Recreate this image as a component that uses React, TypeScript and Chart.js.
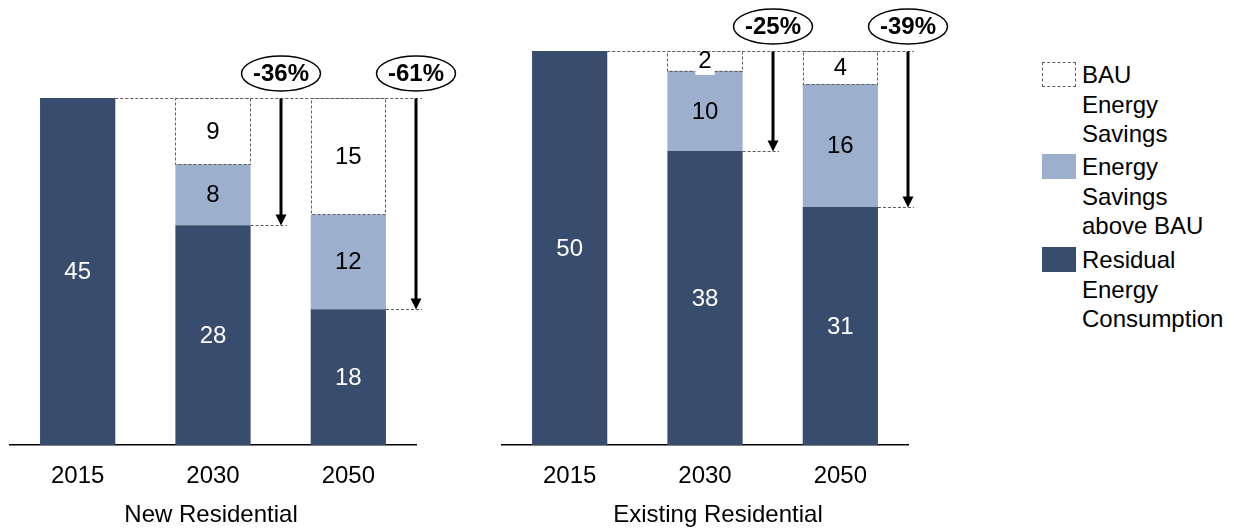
import React, { useEffect, useRef } from 'react';
import { Chart, registerables } from 'chart.js';

Chart.register(...registerables);

// ---------- data ----------
const categories = ['2015', '2030', '2050'];

const newResidual = [45, 28.5, 17.6];
const newAbove = [0, 7.9, 12.3];
const newBau = [0, 8.6, 15.1];
const newResidualLabels = ['45', '28', '18'];
const newAboveLabels = ['', '8', '12'];
const newBauLabels = ['', '9', '15'];
const newChangeLabels = ['', '-36%', '-61%'];

const exResidual = [50, 37.3, 30.2];
const exAbove = [0, 10.2, 15.6];
const exBau = [0, 2.5, 4.2];
const exResidualLabels = ['50', '38', '31'];
const exAboveLabels = ['', '10', '16'];
const exBauLabels = ['', '2', '4'];
const exChangeLabels = ['', '-25%', '-39%'];

const legendLines = [
  ['BAU', 'Energy', 'Savings'],
  ['Energy', 'Savings', 'above BAU'],
  ['Residual', 'Energy', 'Consumption'],
];

// ---------- styles ----------
const FONT = "'Liberation Sans', Arial, Helvetica, sans-serif";
const DARK = '#384C6D';
const LIGHT = '#9CAFCD';
const DASH = '#5c5c5c';
const FS = 24;

const annotatePlugin = {
  id: 'annotate',
  afterDatasetsDraw(chart: any, _args: any, opts: any) {
    const { ctx, scales } = chart;
    const xs = scales.x;
    const res = chart.getDatasetMeta(0).data;
    const ab = chart.getDatasetMeta(1).data;
    const bau = chart.getDatasetMeta(2).data;
    const n = res.length;
    const P = (el: any) => el.getProps(['x', 'y', 'base', 'width'], true);

    ctx.save();
    // dashed BAU boxes
    ctx.lineWidth = 1;
    ctx.strokeStyle = DASH;
    ctx.setLineDash([3, 2]);
    bau.forEach((el: any) => {
      const b = P(el);
      if (b.base - b.y < 1) return;
      const l = Math.round(b.x - b.width / 2) + 0.5;
      const r = Math.round(b.x + b.width / 2) - 0.5;
      const t = Math.round(b.y) + 0.5;
      const bt = Math.round(b.base) + 0.5;
      ctx.strokeRect(l, t, r - l, bt - t);
    });

    const dline = (x1: number, y: number, x2: number) => {
      ctx.beginPath();
      ctx.moveTo(x1, y);
      ctx.lineTo(x2, y);
      ctx.stroke();
    };

    const b0 = P(res[0]);
    const topY = Math.round(b0.y) + 0.5;
    const lastAx = xs.getPixelForValue(n - 1 + 0.5);
    dline(b0.x + b0.width / 2, topY, lastAx + 6);

    for (let i = 1; i < n; i++) {
      const b = P(res[i]);
      const ax = Math.round(xs.getPixelForValue(i + 0.5));
      const yEnd = Math.round(b.y) + 0.5;
      ctx.setLineDash([3, 2]);
      ctx.lineWidth = 1;
      ctx.strokeStyle = DASH;
      dline(b.x + b.width / 2, yEnd, ax + 6);

      // arrow
      ctx.setLineDash([]);
      ctx.strokeStyle = '#000';
      ctx.fillStyle = '#000';
      ctx.lineWidth = 3;
      ctx.beginPath();
      ctx.moveTo(ax, topY);
      ctx.lineTo(ax, yEnd - 10);
      ctx.stroke();
      ctx.beginPath();
      ctx.moveTo(ax - 5.5, yEnd - 11);
      ctx.lineTo(ax + 5.5, yEnd - 11);
      ctx.lineTo(ax, yEnd);
      ctx.closePath();
      ctx.fill();

      // ellipse with change label
      const cy = topY - 25;
      ctx.beginPath();
      ctx.ellipse(ax, cy, 39.5, 17.5, 0, 0, Math.PI * 2);
      ctx.fillStyle = '#fff';
      ctx.fill();
      ctx.lineWidth = 1.5;
      ctx.strokeStyle = '#000';
      ctx.stroke();
      ctx.fillStyle = '#000';
      ctx.font = `bold ${FS}px ${FONT}`;
      ctx.textAlign = 'center';
      ctx.textBaseline = 'middle';
      ctx.fillText(opts.changes[i], ax, cy + 1);
    }

    // value labels
    ctx.font = `${FS}px ${FONT}`;
    ctx.textAlign = 'center';
    ctx.textBaseline = 'middle';
    const groups = [
      { els: res, labels: opts.residualLabels, color: '#fff', box: false },
      { els: ab, labels: opts.aboveLabels, color: '#000', box: false },
      { els: bau, labels: opts.bauLabels, color: '#000', box: true },
    ];
    groups.forEach((g) => {
      g.els.forEach((el: any, i: number) => {
        const txt = g.labels[i];
        if (!txt) return;
        const b = P(el);
        const cy = (b.y + b.base) / 2;
        if (g.box) {
          const w = ctx.measureText(txt).width + 6;
          ctx.fillStyle = '#fff';
          ctx.fillRect(b.x - w / 2, cy - 9, w, 23);
        }
        ctx.fillStyle = g.color;
        ctx.fillText(txt, b.x, cy + 1);
      });
    });

    // axis title
    ctx.fillStyle = '#000';
    ctx.font = `${FS}px ${FONT}`;
    ctx.fillText(opts.title, (chart.chartArea.left + chart.chartArea.right) / 2 + opts.titleDx, opts.titleY);
    ctx.restore();
  },
};

type PanelProps = {
  residual: number[];
  above: number[];
  bau: number[];
  residualLabels: string[];
  aboveLabels: string[];
  bauLabels: string[];
  changes: string[];
  title: string;
  titleDx: number;
  yMax: number;
  left: number;
  width: number;
  padLeft: number;
  padRight: number;
};

function Panel(p: PanelProps) {
  const ref = useRef<HTMLCanvasElement | null>(null);
  useEffect(() => {
    if (!ref.current) return;
    const common = { barPercentage: 0.556, categoryPercentage: 1, borderWidth: 0 };
    const chart = new Chart(ref.current, {
      type: 'bar',
      data: {
        labels: categories,
        datasets: [
          { label: 'Residual Energy Consumption', data: p.residual, backgroundColor: DARK, ...common },
          { label: 'Energy Savings above BAU', data: p.above, backgroundColor: LIGHT, ...common },
          { label: 'BAU Energy Savings', data: p.bau, backgroundColor: '#ffffff', ...common },
        ],
      },
      plugins: [annotatePlugin],
      options: {
        responsive: false,
        animation: false,
        devicePixelRatio: 1,
        layout: { padding: { left: p.padLeft, right: p.padRight, top: 0, bottom: 0 } },
        plugins: {
          legend: { display: false },
          tooltip: { enabled: false },
          annotate: {
            residualLabels: p.residualLabels,
            aboveLabels: p.aboveLabels,
            bauLabels: p.bauLabels,
            changes: p.changes,
            title: p.title,
            titleDx: p.titleDx,
            titleY: 515,
          },
        } as any,
        scales: {
          x: {
            stacked: true,
            grid: { display: false, drawTicks: false },
            border: { display: true, color: '#000', width: 1.5 },
            ticks: { color: '#000', font: { family: FONT, size: FS }, padding: 17 },
            afterFit: (s: any) => {
              s.height = 85;
            },
          },
          y: { stacked: true, display: false, min: 0, max: p.yMax },
        },
      } as any,
    });
    return () => chart.destroy();
  }, []);
  return (
    <canvas
      ref={ref}
      width={p.width}
      height={530}
      style={{ position: 'absolute', left: p.left, top: 0, width: p.width, height: 530 }}
    />
  );
}

function Legend() {
  const tops = [62, 154, 247];
  return (
    <>
      {legendLines.map((lines, k) => (
        <React.Fragment key={k}>
          <div
            style={{
              position: 'absolute',
              left: 1042,
              top: tops[k],
              width: 34,
              height: 25,
              boxSizing: 'border-box',
              background: k === 0 ? '#fff' : k === 1 ? LIGHT : DARK,
              border: k === 0 ? `1px dashed ${DASH}` : 'none',
            }}
          />
          <div
            style={{
              position: 'absolute',
              left: 1082,
              top: tops[k] - 1.75,
              fontFamily: FONT,
              fontSize: FS,
              lineHeight: '29.5px',
              color: '#000',
              whiteSpace: 'nowrap',
            }}
          >
            {lines.map((l, j) => (
              <div key={j}>{l}</div>
            ))}
          </div>
        </React.Fragment>
      ))}
    </>
  );
}

export default function App() {
  return (
    <div
      style={{
        position: 'absolute',
        left: 0,
        top: 0,
        width: 1234,
        height: 530,
        overflow: 'hidden',
        background: '#fff',
      }}
    >
      <Panel
        residual={newResidual}
        above={newAbove}
        bau={newBau}
        residualLabels={newResidualLabels}
        aboveLabels={newAboveLabels}
        bauLabels={newBauLabels}
        changes={newChangeLabels}
        title="New Residential"
        titleDx={-2}
        yMax={57.7}
        left={0}
        width={470}
        padLeft={10}
        padRight={54}
      />
      <Panel
        residual={exResidual}
        above={exAbove}
        bau={exBau}
        residualLabels={exResidualLabels}
        aboveLabels={exAboveLabels}
        bauLabels={exBauLabels}
        changes={exChangeLabels}
        title="Existing Residential"
        titleDx={13}
        yMax={56.47}
        left={480}
        width={480}
        padLeft={22}
        padRight={52}
      />
      <Legend />
    </div>
  );
}
